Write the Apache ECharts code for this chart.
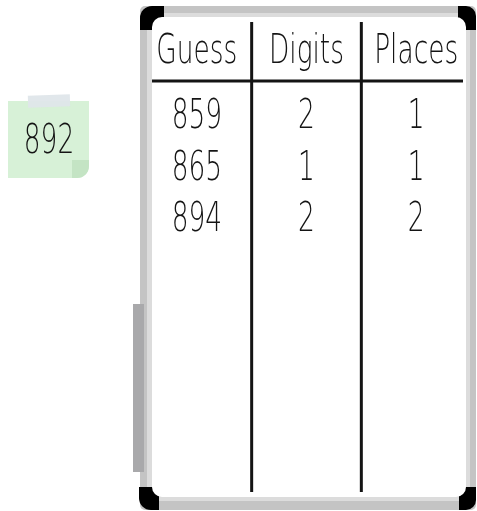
<!DOCTYPE html>
<html>
<head>
<meta charset="utf-8">
<script src="https://cdn.jsdelivr.net/npm/echarts@6/dist/echarts.min.js"></script>
<style>
  html, body { margin: 0; padding: 0; background: #fff; }
  #main { width: 477px; height: 511px; }
</style>
</head>
<body>
<div id="main"></div>
<script>
// the number on the sticky note
var secretNumber = '892';
// table columns and rows
var headers = ['Guess', 'Digits', 'Places'];
var guesses = ['859', '865', '894'];
var digitsRight = [2, 1, 2];
var placesRight = [1, 1, 2];

var HAND_FONT = '200 40px "DejaVu Sans"';
var INK = '#141414';
var SQUEEZE = 0.66; // handwriting is narrow

// one cell per row/column, text looked up by dataIndex
var cells = [];
guesses.forEach(function (g, i) {
  cells.push({ col: 0, row: i + 1, text: g });
  cells.push({ col: 1, row: i + 1, text: String(digitsRight[i]) });
  cells.push({ col: 2, row: i + 1, text: String(placesRight[i]) });
});

var chart = echarts.init(document.getElementById('main'));

function handText(x, y, txt) {
  return {
    type: 'text',
    x: x,
    y: y,
    scaleX: SQUEEZE,
    style: {
      text: txt,
      x: 0,
      y: 0,
      font: HAND_FONT,
      fill: INK,
      align: 'center',
      verticalAlign: 'middle'
    }
  };
}

var option = {
  animation: false,
  backgroundColor: '#fff',
  grid: { left: 142, right: 6, top: 81, bottom: 19 },
  xAxis: { type: 'category', data: headers, show: false },
  yAxis: { type: 'value', inverse: true, min: 0.28, max: 8.28, show: false },
  graphic: [
    // whiteboard frame
    { type: 'rect', shape: { x: 140, y: 6, width: 336, height: 504, r: 5 }, style: { fill: '#c4c4c4' } },
    { type: 'rect', shape: { x: 147, y: 13, width: 323, height: 488, r: 10 }, style: { fill: '#dcdcdc' } },
    { type: 'rect', shape: { x: 140, y: 6, width: 24, height: 24, r: [12, 0, 0, 0] }, style: { fill: '#000' } },
    { type: 'rect', shape: { x: 458, y: 6, width: 18, height: 24, r: [0, 10, 0, 0] }, style: { fill: '#000' } },
    { type: 'rect', shape: { x: 139, y: 487, width: 20, height: 23, r: [0, 0, 0, 12] }, style: { fill: '#000' } },
    { type: 'rect', shape: { x: 459, y: 487, width: 17, height: 23, r: [0, 0, 10, 0] }, style: { fill: '#000' } },
    { type: 'rect', shape: { x: 152, y: 17, width: 314, height: 480, r: 10 }, style: { fill: '#fff' } },
    // marker tray on the left
    { type: 'rect', shape: { x: 133, y: 304, width: 11, height: 168 }, style: { fill: '#a9a9ab' } },
    // sticky note
    { type: 'rect', shape: { x: 8, y: 101, width: 81, height: 77, r: [0, 0, 12, 0] }, style: { fill: '#d7f1d7' } },
    { type: 'rect', shape: { x: 72, y: 160, width: 17, height: 18, r: [0, 0, 12, 0] }, style: { fill: '#c4e4c4' } },
    { type: 'rect', x: 49, y: 101, rotation: 0.03, shape: { x: -21, y: -6, width: 42, height: 12 }, style: { fill: '#dfe6ea', opacity: 0.95 } },
    {
      type: 'text', x: 49, y: 143, scaleX: SQUEEZE,
      style: { text: secretNumber, font: HAND_FONT, fill: INK, align: 'center', verticalAlign: 'middle' }
    }
  ],
  series: [
    {
      // column headings and the line under them
      type: 'custom',
      data: headers.map(function (h, i) { return [i]; }),
      encode: { x: 0 },
      renderItem: function (params, api) {
        var cs = params.coordSys;
        var i = api.value(0);
        var cx = api.coord([i, 1])[0];
        var band = api.size([1, 0])[0];
        var x1 = Math.max(cx - band / 2, cs.x + 10);
        var x2 = Math.min(cx + band / 2, cs.x + cs.width - 8);
        return {
          type: 'group',
          children: [
            handText(cx, cs.y - 28, headers[i]),
            {
              type: 'line',
              shape: { x1: x1, y1: cs.y, x2: x2, y2: cs.y },
              style: { stroke: INK, lineWidth: 3 }
            }
          ]
        };
      }
    },
    {
      // column separators
      type: 'custom',
      data: [[0], [1]],
      encode: { x: 0 },
      renderItem: function (params, api) {
        var cs = params.coordSys;
        var x = api.coord([api.value(0), 1])[0] + api.size([1, 0])[0] / 2;
        return {
          type: 'line',
          shape: { x1: x, y1: cs.y - 59, x2: x, y2: cs.y + cs.height },
          style: { stroke: INK, lineWidth: 3 }
        };
      }
    },
    {
      // the guesses and their scores
      type: 'custom',
      data: cells.map(function (c) { return [c.col, c.row]; }),
      encode: { x: 0, y: 1 },
      renderItem: function (params, api) {
        var p = api.coord([api.value(0), api.value(1)]);
        return handText(p[0], p[1], cells[params.dataIndex].text);
      }
    }
  ]
};

chart.setOption(option);
</script>
</body>
</html>
